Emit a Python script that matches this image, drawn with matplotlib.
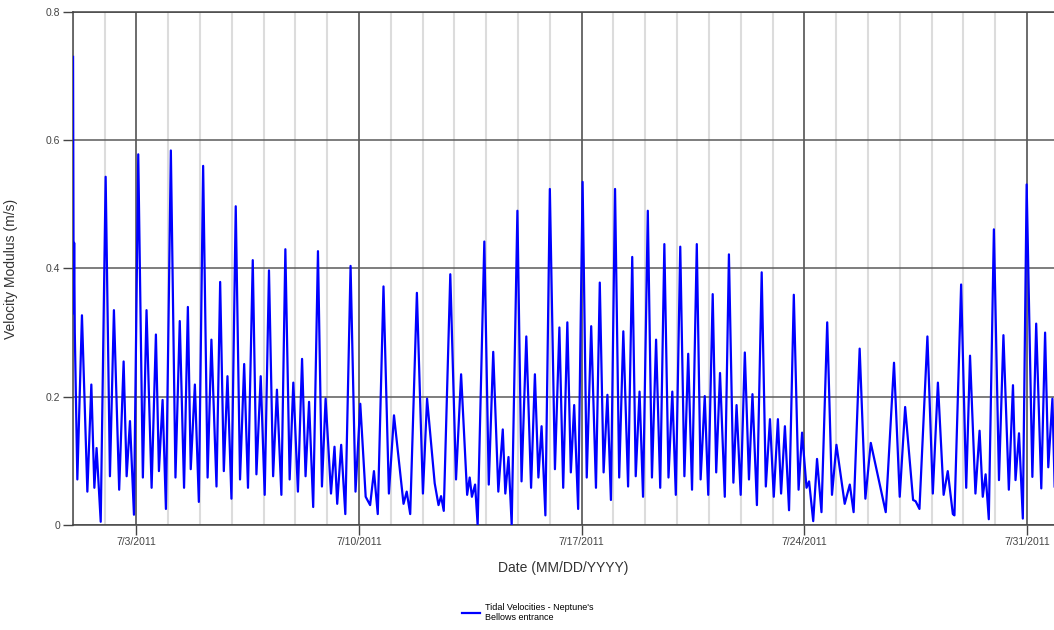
import pandas as pd
import matplotlib
matplotlib.use('Agg')
import matplotlib.pyplot as plt
import matplotlib.dates as mdates

plt.rcParams['font.family'] = ['Liberation Sans', 'DejaVu Sans']

# time of each turning point, in days after 7/1/2011 00:00, and the speed there (m/s)
start = pd.Timestamp('2011-07-01')
end_day = 30.85

days = [0.01, 0.03, 0.045, 0.065, 0.145, 0.29, 0.46, 0.585, 0.68, 0.75, 0.88,
        1.035, 1.17, 1.295, 1.46, 1.60, 1.695, 1.80, 1.925,
        2.06, 2.205, 2.32, 2.48, 2.615, 2.71, 2.825, 2.93,
        3.085, 3.23, 3.365, 3.50, 3.62, 3.71, 3.84, 3.965,
        4.10, 4.24, 4.36, 4.52, 4.635, 4.75, 4.865, 4.99,
        5.125, 5.26, 5.39, 5.51, 5.66, 5.775, 5.91, 6.035,
        6.17, 6.30, 6.42, 6.56, 6.685, 6.82, 6.935, 7.08,
        7.21, 7.32, 7.43, 7.56, 7.71, 7.835, 7.95, 8.12,
        8.23, 8.315, 8.44, 8.57, 8.735, 8.89, 9.04, 9.21,
        9.35, 9.47, 9.59, 9.77, 9.94, 10.10, 10.40, 10.50,
        10.61, 10.82, 11.01, 11.14, 11.38, 11.50, 11.58, 11.665,
        11.87, 12.05, 12.21, 12.40, 12.48, 12.55, 12.65, 12.73,
        12.94, 13.08, 13.22, 13.38, 13.52, 13.60, 13.70, 13.80,
        13.98, 14.11, 14.26, 14.41, 14.53, 14.64, 14.74, 14.86,
        15.00, 15.16, 15.30, 15.42, 15.55, 15.66, 15.765, 15.89,
        16.03, 16.16, 16.30, 16.45, 16.57, 16.69, 16.81, 16.92,
        17.05, 17.18, 17.31, 17.46, 17.59, 17.70, 17.82, 17.93,
        18.08, 18.21, 18.34, 18.47, 18.60, 18.73, 18.85, 18.96,
        19.10, 19.23, 19.35, 19.47, 19.62, 19.74, 19.87, 19.98,
        20.12, 20.23, 20.35, 20.50, 20.63, 20.77, 20.87, 21.00,
        21.13, 21.26, 21.37, 21.51, 21.66, 21.79, 21.92, 22.04,
        22.17, 22.27, 22.39, 22.52, 22.67, 22.82, 22.93, 23.07,
        23.15, 23.28, 23.40, 23.54, 23.72, 23.87, 24.01, 24.27,
        24.43, 24.55, 24.74, 24.92, 25.09, 25.56, 25.82, 26.00,
        26.17, 26.42, 26.50, 26.62, 26.87, 27.04, 27.20, 27.38,
        27.51, 27.67, 27.72, 27.93, 28.09, 28.21, 28.38, 28.51,
        28.61, 28.70, 28.80, 28.96, 29.12, 29.26, 29.43, 29.56,
        29.64, 29.75, 29.87, 29.99, 30.17, 30.29, 30.45, 30.57,
        30.67, 30.80, 30.87]

speed = [0.73, 0.33, 0.44, 0.30, 0.071, 0.327, 0.052, 0.219, 0.058, 0.12, 0.005,
         0.543, 0.076, 0.335, 0.055, 0.255, 0.076, 0.162, 0.016,
         0.578, 0.074, 0.335, 0.058, 0.297, 0.084, 0.195, 0.025,
         0.584, 0.074, 0.318, 0.058, 0.34, 0.087, 0.219, 0.036,
         0.56, 0.074, 0.289, 0.06, 0.379, 0.084, 0.232, 0.041,
         0.497, 0.071, 0.251, 0.058, 0.413, 0.079, 0.232, 0.047,
         0.397, 0.076, 0.211, 0.047, 0.43, 0.071, 0.222, 0.052,
         0.259, 0.076, 0.192, 0.028, 0.427, 0.06, 0.197, 0.049,
         0.122, 0.033, 0.125, 0.017, 0.404, 0.052, 0.189, 0.044,
         0.031, 0.084, 0.017, 0.372, 0.049, 0.171, 0.033, 0.052,
         0.017, 0.362, 0.049, 0.197, 0.065, 0.031, 0.045, 0.022,
         0.391, 0.071, 0.235, 0.047, 0.074, 0.044, 0.063, 0.0,
         0.442, 0.063, 0.27, 0.052, 0.149, 0.049, 0.106, 0.0,
         0.49, 0.068, 0.294, 0.058, 0.235, 0.074, 0.154, 0.015,
         0.524, 0.087, 0.308, 0.058, 0.316, 0.082, 0.187, 0.025,
         0.535, 0.074, 0.31, 0.058, 0.378, 0.082, 0.203, 0.039,
         0.524, 0.074, 0.302, 0.06, 0.418, 0.076, 0.208, 0.044,
         0.49, 0.074, 0.289, 0.058, 0.438, 0.074, 0.208, 0.047,
         0.434, 0.076, 0.267, 0.055, 0.438, 0.071, 0.201, 0.047,
         0.36, 0.082, 0.237, 0.044, 0.422, 0.066, 0.187, 0.047,
         0.269, 0.071, 0.204, 0.031, 0.394, 0.06, 0.165, 0.044,
         0.165, 0.049, 0.154, 0.023, 0.359, 0.055, 0.144, 0.058,
         0.068, 0.006, 0.103, 0.02, 0.316, 0.047, 0.125, 0.033,
         0.063, 0.02, 0.275, 0.041, 0.128, 0.02, 0.253, 0.044,
         0.184, 0.039, 0.037, 0.025, 0.294, 0.049, 0.222, 0.047,
         0.084, 0.017, 0.015, 0.375, 0.058, 0.264, 0.049, 0.147,
         0.044, 0.079, 0.009, 0.461, 0.07, 0.296, 0.055, 0.218,
         0.07, 0.143, 0.01, 0.531, 0.075, 0.314, 0.057, 0.3,
         0.09, 0.197, 0.06]

major_days = ['2011-07-03', '2011-07-10', '2011-07-17', '2011-07-24', '2011-07-31']
major_labels = ['7/3/2011', '7/10/2011', '7/17/2011', '7/24/2011', '7/31/2011']
y_ticks = [0, 0.2, 0.4, 0.6, 0.8]
y_labels = ['0', '0.2', '0.4', '0.6', '0.8']

times = start + pd.to_timedelta(days, unit='D')

fig = plt.figure(figsize=(10.54, 6.30), dpi=100)
ax = fig.add_axes([0.069, 0.1667, 0.931, 0.8143])

ax.plot(times, speed, color='#0000ff', lw=1.6, zorder=3,
        label="Tidal Velocities - Neptune's\nBellows entrance")

ax.set_xlim(start, start + pd.Timedelta(days=end_day))
ax.set_ylim(0, 0.8)
ax.set_xticks(pd.to_datetime(major_days).to_pydatetime())
ax.set_xticklabels(major_labels)
ax.xaxis.set_minor_locator(mdates.DayLocator())
ax.set_yticks(y_ticks)
ax.set_yticklabels(y_labels)

ax.set_axisbelow(True)
ax.grid(which='minor', axis='x', color='#dcdcdc', lw=1.5)
ax.grid(which='major', axis='x', color='#444444', lw=1.1)
ax.grid(which='major', axis='y', color='#5a5a5a', lw=1.1)

ax.tick_params(which='minor', length=0)
ax.tick_params(which='major', length=7, width=1, color='#444444',
               labelsize=7.5, labelcolor='#444444', pad=2)
for side in ('left', 'bottom', 'top'):
    ax.spines[side].set_color('#444444')
    ax.spines[side].set_linewidth(1.1)
ax.spines['right'].set_visible(False)

ax.set_ylabel('Velocity Modulus (m/s)', fontsize=10, color='#333333')
ax.yaxis.set_label_coords(-0.056, 0.5)
ax.set_xlabel('Date (MM/DD/YYYY)', fontsize=10, color='#333333')
ax.xaxis.set_label_coords(0.5, -0.07)

ax.legend(loc='center left', bbox_to_anchor=(0.434, 0.028),
          bbox_transform=fig.transFigure, frameon=False, fontsize=6.5,
          handlelength=2.0, handletextpad=0.5, borderpad=0)

fig.savefig('out.png', dpi=100, facecolor='white')
